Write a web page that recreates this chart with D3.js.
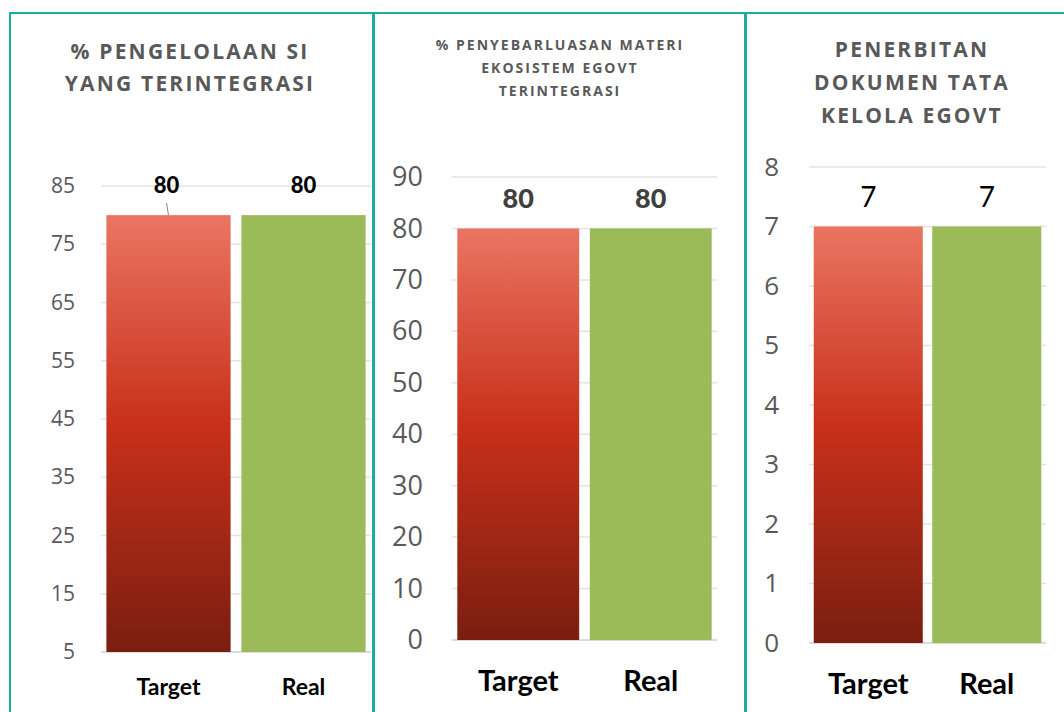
<!DOCTYPE html>
<html>
<head>
<meta charset="utf-8">
<script src="https://cdn.jsdelivr.net/npm/d3@7"></script>
<style>
  body { margin: 0; background: #fff; }
  svg { display: block; }
  .title { font-family: "Open Sans", sans-serif; font-weight: 700; fill: #595959; }
  .tick-label { font-family: "Open Sans", sans-serif; fill: #595959; }
  .cat-label { font-family: "Liberation Sans Narrow", "Lato", sans-serif; font-weight: 700; fill: #000; }
</style>
</head>
<body>
<svg id="chart" width="1064" height="712"></svg>
<script>
// data
var categories = ['Target', 'Real']

var titleSI = ['% PENGELOLAAN SI', 'YANG TERINTEGRASI']
var valuesSI = [80, 80]
var ticksSI = [5, 15, 25, 35, 45, 55, 65, 75, 85]

var titleMateri = ['% PENYEBARLUASAN MATERI', 'EKOSISTEM EGOVT', 'TERINTEGRASI']
var valuesMateri = [80, 80]
var ticksMateri = [0, 10, 20, 30, 40, 50, 60, 70, 80, 90]

var titleDokumen = ['PENERBITAN', 'DOKUMEN TATA', 'KELOLA EGOVT']
var valuesDokumen = [7, 7]
var ticksDokumen = [0, 1, 2, 3, 4, 5, 6, 7, 8]

var svg = d3.select('#chart')

// red gradient for the Target bar
var grad = svg.append('defs').append('linearGradient')
    .attr('id', 'redGrad')
    .attr('x1', 0).attr('y1', 0).attr('x2', 0).attr('y2', 1)
grad.append('stop').attr('offset', '0%').attr('stop-color', '#ea7562')
grad.append('stop').attr('offset', '48%').attr('stop-color', '#c8301a')
grad.append('stop').attr('offset', '100%').attr('stop-color', '#7a1e10')

var barColors = ['url(#redGrad)', '#9bbb59']

// panel frames
var frames = [
  {x: 10, w: 363},
  {x: 374, w: 372},
  {x: 745, w: 330}
]
svg.selectAll('.frame')
    .data(frames)
  .enter().append('rect')
    .attr('class', 'frame')
    .attr('x', d => d.x)
    .attr('y', 13)
    .attr('width', d => d.w)
    .attr('height', 720)
    .attr('fill', 'none')
    .attr('stroke', '#1aae9a')
    .attr('stroke-width', 2)

function drawPanel (opt) {
  var g = svg.append('g')

  // title
  g.selectAll('.title-line')
      .data(opt.title)
    .enter().append('text')
      .attr('class', 'title')
      .attr('x', opt.titleX)
      .attr('y', (d, i) => opt.titleY + i * opt.titleGap)
      .attr('text-anchor', 'middle')
      .style('font-size', opt.titleSize + 'px')
      .attr('letter-spacing', opt.titleSpacing)
      .text(d => d)

  var x = d3.scaleBand()
      .domain(categories)
      .range([opt.left, opt.right])
      .paddingInner(0.08)
      .paddingOuter(0.04)

  var y = d3.scaleLinear()
      .domain(d3.extent(opt.ticks))
      .range([opt.bottom, opt.top])

  // gridlines
  g.selectAll('.grid')
      .data(opt.ticks)
    .enter().append('line')
      .attr('x1', opt.left)
      .attr('x2', opt.right)
      .attr('y1', d => y(d))
      .attr('y2', d => y(d))
      .attr('stroke', (d, i) => i === 0 ? '#d0d0d0' : '#e3e3e3')
      .attr('stroke-width', 1.5)

  // y tick labels
  var yAxis = g.append('g')
      .attr('transform', 'translate(' + opt.labelX + ',0)')
      .call(d3.axisLeft(y).tickValues(opt.ticks).tickSize(0).tickPadding(0))
  yAxis.select('.domain').remove()
  yAxis.selectAll('text')
      .attr('class', 'tick-label')
      .style('font-size', opt.tickSize + 'px')
      .attr('fill', '#595959')

  // bars
  g.selectAll('.bar')
      .data(opt.values)
    .enter().append('rect')
      .attr('x', (d, i) => x(categories[i]))
      .attr('width', x.bandwidth())
      .attr('y', d => y(d))
      .attr('height', d => opt.bottom - y(d))
      .attr('fill', (d, i) => barColors[i])

  // value labels
  g.selectAll('.val')
      .data(opt.values)
    .enter().append('text')
      .attr('x', (d, i) => x(categories[i]) + x.bandwidth() / 2 + (opt.valShift ? opt.valShift[i] : 0))
      .attr('y', d => y(d) - opt.valOffset)
      .attr('text-anchor', 'middle')
      .attr('font-family', opt.valFont)
      .attr('font-weight', opt.valWeight)
      .attr('font-size', opt.valSize)
      .attr('fill', opt.valColor)
      .text(d => d)

  // category labels
  g.selectAll('.cat')
      .data(categories)
    .enter().append('text')
      .attr('class', 'cat-label')
      .attr('x', d => x(d) + x.bandwidth() / 2)
      .attr('y', opt.catY)
      .attr('text-anchor', 'middle')
      .style('font-size', opt.catSize + 'px')
      .text(d => d)

  return {x: x, y: y, g: g}
}

var p1 = drawPanel({
  title: titleSI, titleX: 190, titleY: 59, titleGap: 32, titleSize: 21, titleSpacing: 2.2,
  values: valuesSI, ticks: ticksSI,
  left: 101, right: 371, top: 186, bottom: 652,
  labelX: 75, tickSize: 21,
  valFont: 'Lato, sans-serif', valWeight: 900, valSize: 22, valColor: '#000', valOffset: 22,
  valShift: [-2, 0],
  catY: 695, catSize: 23
})
// leader line for the Target label
p1.g.append('line')
    .attr('x1', p1.x('Target') + p1.x.bandwidth() / 2 - 2)
    .attr('y1', p1.y(valuesSI[0]) - 12)
    .attr('x2', p1.x('Target') + p1.x.bandwidth() / 2)
    .attr('y2', p1.y(valuesSI[0]))
    .attr('stroke', '#888')
    .attr('stroke-width', 1)

drawPanel({
  title: titleMateri, titleX: 560, titleY: 50, titleGap: 23, titleSize: 14, titleSpacing: 2,
  values: valuesMateri, ticks: ticksMateri,
  left: 452, right: 717, top: 177, bottom: 640,
  labelX: 423, tickSize: 27,
  valFont: 'Lato, sans-serif', valWeight: 900, valSize: 27, valColor: '#404040', valOffset: 20,
  catY: 691, catSize: 29
})

drawPanel({
  title: titleDokumen, titleX: 912, titleY: 57, titleGap: 33, titleSize: 21, titleSpacing: 2.2,
  values: valuesDokumen, ticks: ticksDokumen,
  left: 809, right: 1046, top: 167, bottom: 643,
  labelX: 779, tickSize: 26,
  valFont: 'Lato, sans-serif', valWeight: 400, valSize: 28, valColor: '#000', valOffset: 20,
  catY: 694, catSize: 29
})
</script>
</body>
</html>
